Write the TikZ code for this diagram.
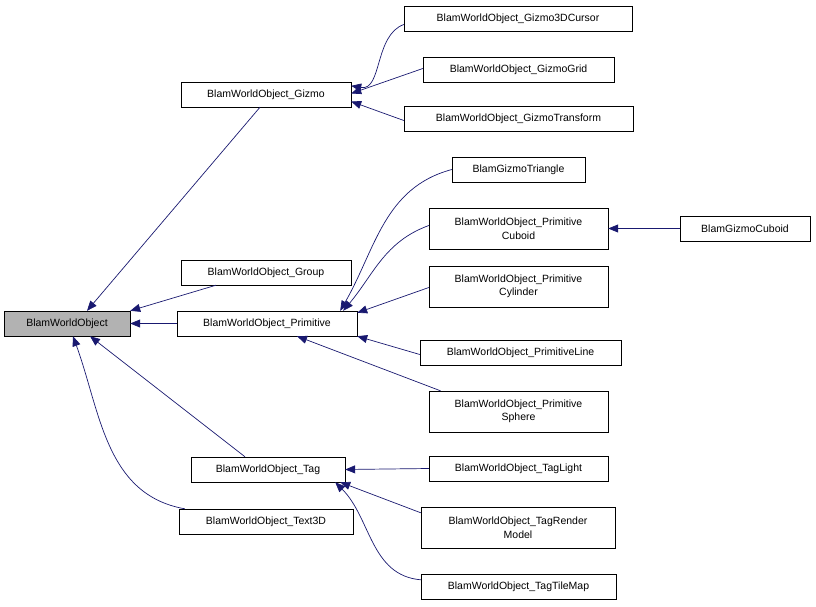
\documentclass[tikz,border=0pt]{standalone}
\usepackage{fontspec}
\setmainfont{Liberation Sans}
\usetikzlibrary{arrows.meta}
\definecolor{navy}{RGB}{25,25,112}
\begin{document}
\begin{tikzpicture}[x=1pt,y=-1pt,
  box/.style={draw=black,fill=white,inner sep=0pt,align=center},
  edge/.style={draw=navy,{Triangle[length=10pt,width=8pt,fill=navy]}-,line width=0.7pt}]
\useasboundingbox (0,0) rectangle (816,607);
\newcommand\bx[6]{\node[box,minimum width=#4-#2,minimum height=#5-#3,#6] (#1) at ({(#2+#4)/2},{(#3+#5)/2}) {};}
\bx{bwo}{4}{311}{130}{336}{fill=black!30}
\bx{gizmo}{181}{82}{351}{107}{}
\bx{group}{181}{260}{351}{285}{}
\bx{prim}{177}{311}{357}{336}{}
\bx{tag}{191}{457}{345}{482}{}
\bx{text}{179}{509}{353}{534}{}
\bx{cur}{404}{6}{632}{31}{}
\bx{grid}{423}{57}{614}{82}{}
\bx{trans}{404}{106}{633}{131}{}
\bx{tri}{452}{157}{585}{182}{}
\bx{cub}{429}{208}{608}{249}{}
\bx{gcub}{680}{216}{810}{241}{}
\bx{cyl}{429}{266}{608}{307}{}
\bx{line}{420}{340}{621}{365}{}
\bx{sph}{429}{391}{608}{432}{}
\bx{tl}{429}{456}{608}{481}{}
\bx{trm}{421}{507}{615}{548}{}
\bx{ttm}{421}{574}{616}{599}{}
\path[font=\fontsize{10.5}{13.5}\selectfont]
 (bwo) node{BlamWorldObject}
 (gizmo) node{BlamWorldObject\_Gizmo}
 (group) node{BlamWorldObject\_Group}
 (prim) node{BlamWorldObject\_Primitive}
 (tag) node{BlamWorldObject\_Tag}
 (text) node{BlamWorldObject\_Text3D}
 (cur) node{BlamWorldObject\_Gizmo3DCursor}
 (grid) node{BlamWorldObject\_GizmoGrid}
 (trans) node{BlamWorldObject\_GizmoTransform}
 (tri) node{BlamGizmoTriangle}
 (cub) node[align=center]{BlamWorldObject\_Primitive\\Cuboid}
 (gcub) node{BlamGizmoCuboid}
 (cyl) node[align=center]{BlamWorldObject\_Primitive\\Cylinder}
 (line) node{BlamWorldObject\_PrimitiveLine}
 (sph) node[align=center]{BlamWorldObject\_Primitive\\Sphere}
 (tl) node{BlamWorldObject\_TagLight}
 (trm) node[align=center]{BlamWorldObject\_TagRender\\Model}
 (ttm) node{BlamWorldObject\_TagTileMap};
\draw[edge] ([yshift=-4pt]gizmo.north east) to[out=-10,in=200] ([yshift=-6pt]cur.west);
\draw[edge] ([yshift=1pt]gizmo.east) -- ([yshift=1pt]grid.west);
\draw[edge] ([yshift=-7pt]gizmo.east) -- ([yshift=-2pt]trans.west);
\draw[edge] ([xshift=20pt]bwo.north) -- ([xshift=-6pt]gizmo.south);
\draw[edge] (bwo.north east) -- ([xshift=-50pt]group.south);
\draw[edge] (bwo.east) -- (prim.west);
\draw[edge] ([xshift=23pt]bwo.south) -- ([xshift=-23pt]tag.north);
\draw[edge] ([xshift=6pt]bwo.south) to[out=-70,in=170] ([xshift=6pt]text.north west);
\draw[edge] ([xshift=-17pt]prim.north east) to[out=60,in=195] (tri.west);
\draw[edge] ([xshift=-14pt]prim.north east) to[out=50,in=200] ([yshift=3pt]cub.west);
\draw[edge] ([yshift=-2pt]prim.north east) -- ([yshift=-1pt]cyl.west);
\draw[edge] (prim.south east) -- ([yshift=-2pt]line.west);
\draw[edge] ([xshift=30pt]prim.south) -- ([xshift=-78pt]sph.north);
\draw[edge] (cub.east) -- (gcub.west);
\draw[edge] (tag.east) -- (tl.west);
\draw[edge] ([xshift=-5pt]tag.south east) -- ([yshift=-6pt]trm.north west);
\draw[edge] ([xshift=-10pt]tag.south east) to[out=-45,in=175] ([yshift=-6pt]ttm.north west);
\end{tikzpicture}
\end{document}
